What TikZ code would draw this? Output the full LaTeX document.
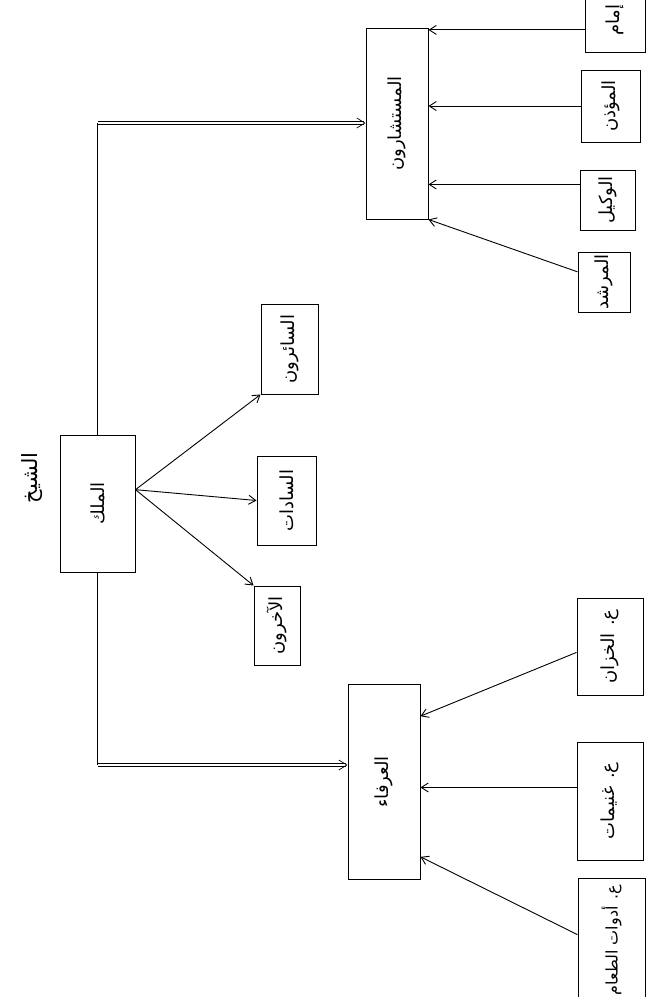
\documentclass[tikz,border=0pt]{standalone}
\usepackage{fontspec}
\usepackage{graphicx}
\newfontfamily\arabicfont[Script=Arabic]{DejaVu Sans}
\TeXXeTstate=1
\usetikzlibrary{arrows.meta}
\newcommand{\artxt}[1]{\rotatebox{90}{\arabicfont\beginR #1\endR}}
\begin{document}
\begin{tikzpicture}[x=1pt,y=-1pt,
  box/.style={draw, line width=1pt, rectangle, inner sep=0pt, font=\fontsize{18}{20}\selectfont},
  arr/.style={line width=0.9pt, -{Straight Barb[length=7pt,width=9pt]}},
  dbl/.style={line width=0.7pt, double, double distance=2.5pt, -{Straight Barb[length=8pt,width=10pt]}},
  ln/.style={line width=0.9pt}]
\useasboundingbox[fill=white] (0,0) rectangle (656,997);

% top level
\node[font=\fontsize{21}{23}\selectfont] (sheikh) at (32,478) {\artxt{الشيخ}};
\node[box, minimum width=75pt, minimum height=137pt] (king) at (97.5,503.5) {\artxt{الملك}};

% second level
\node[box, minimum width=62pt, minimum height=191pt] (adv) at (397,123.5) {\artxt{المستشارون}};
\node[box, minimum width=72pt, minimum height=195pt] (arafa) at (384,782) {\artxt{العرفاء}};

\node[box, minimum width=57pt, minimum height=90pt] (ctop) at (289.5,349) {\artxt{السائرون}};
\node[box, minimum width=59pt, minimum height=89pt] (cmid) at (286.5,500.5) {\artxt{السادات}};
\node[box, minimum width=46pt, minimum height=79pt] (cbot) at (277,625.5) {\artxt{الآخرون}};

% advisors' children
\node[box, minimum width=60pt, minimum height=64pt] (imam) at (615,20) {\artxt{إمام}};
\node[box, minimum width=59pt, minimum height=72pt] (muadhin) at (610.5,106) {\artxt{المؤذن}};
\node[box, minimum width=55pt, minimum height=60pt] (wakil) at (607.5,200) {\artxt{الوكيل}};
\node[box, minimum width=52pt, minimum height=60pt] (murshid) at (604,282) {\artxt{المرشد}};

% arafa's children
\node[box, minimum width=66pt, minimum height=97pt] (khazan) at (610,646.5) {\artxt{ع. الخزان}};
\node[box, minimum width=66pt, minimum height=118pt] (ghanimat) at (610,801) {\artxt{ع. غنيمات}};
\node[box, minimum width=67pt, minimum height=124pt, font=\fontsize{16}{18}\selectfont] (adawat) at (611.5,940) {\artxt{ع. أدوات الطعام}};

% king to the two councils
\coordinate (jt) at (97.5,123);
\coordinate (jb) at (97.5,765);
\draw[ln] (king.north) -- (jt);
\draw[dbl] (jt) -- (jt -| adv.west);
\draw[ln] (king.south) -- (jb);
\draw[dbl] (jb) -- (jb -| arafa.west);

% king to the three groups
\draw[arr] (king.20) -- (ctop.south west);
\draw[arr] (king.20) -- (cmid.west);
\draw[arr] (king.20) -- (cbot.north west);

% into the advisors
\draw[arr] (imam.198) -- (imam.198 -| adv.east);
\draw[arr] (muadhin.west) -- (muadhin.west -| adv.east);
\draw[arr] (wakil.151) -- (wakil.151 -| adv.east);
\draw[arr] (murshid.159) -- (adv.south east);

% into the arafa
\draw[arr] (khazan.190) -- (arafa.61);
\draw[arr] (ghanimat.158) -- (ghanimat.158 -| arafa.east);
\draw[arr] (adawat.171) -- (arafa.296);
\end{tikzpicture}
\end{document}
